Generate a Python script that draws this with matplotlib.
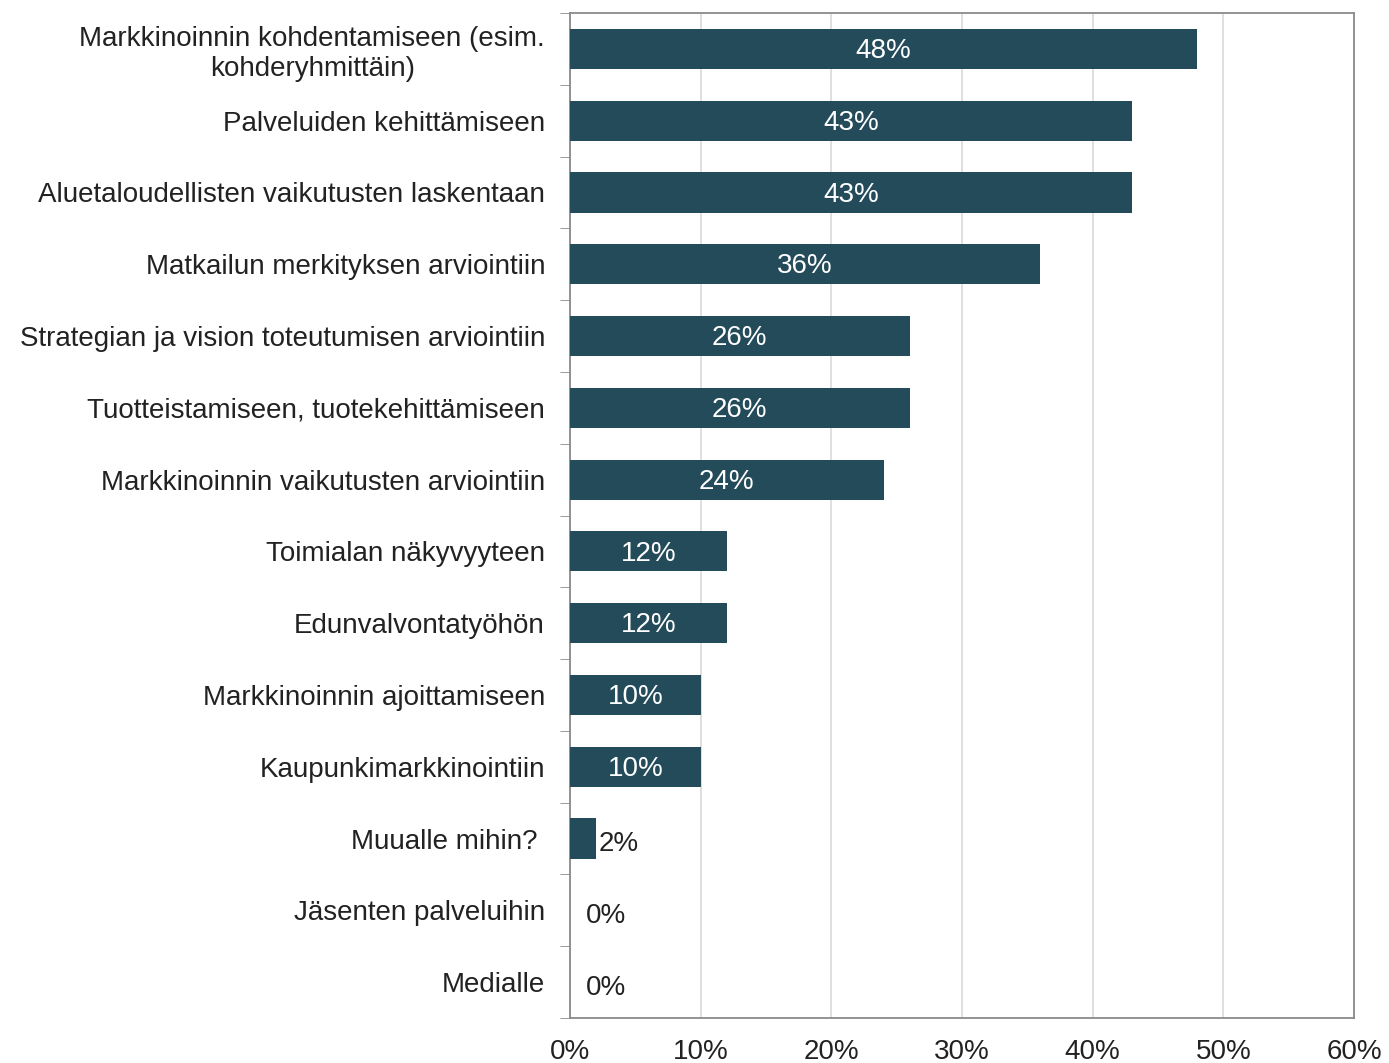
import matplotlib.pyplot as plt
import numpy as np

plt.rcParams['font.family'] = ['Liberation Sans', 'DejaVu Sans']

categories = [
    "Markkinoinnin kohdentamiseen (esim.\nkohderyhmittäin)",
    "Palveluiden kehittämiseen",
    "Aluetaloudellisten vaikutusten laskentaan",
    "Matkailun merkityksen arviointiin",
    "Strategian ja vision toteutumisen arviointiin",
    "Tuotteistamiseen, tuotekehittämiseen",
    "Markkinoinnin vaikutusten arviointiin",
    "Toimialan näkyvyyteen",
    "Edunvalvontatyöhön",
    "Markkinoinnin ajoittamiseen",
    "Kaupunkimarkkinointiin",
    "Muualle mihin? ",
    "Jäsenten palveluihin",
    "Medialle",
]
values = [48, 43, 43, 36, 26, 26, 24, 12, 12, 10, 10, 2, 0, 0]

bar_color = "#234b5a"
spine_color = "#8a8a8a"
fs = 20

fig = plt.figure(figsize=(13.89, 10.63), dpi=100)
ax = fig.add_axes([570 / 1389, 1 - 1018 / 1063, (1354 - 570) / 1389, (1018 - 13) / 1063])

y = np.arange(len(categories))
ax.barh(y, values, height=0.56, color=bar_color, zorder=3)

for yi, v in zip(y, values):
    if v >= 5:
        ax.text(v / 2, yi + 0.03, f"{v}%", ha="center", va="center",
                color="white", fontsize=fs, zorder=4)
    else:
        ax.text(max(v, 1.0) + 0.2, yi + 0.08, f"{v}%", ha="left", va="center",
                color="#222222", fontsize=fs, zorder=4)

ax.set_xlim(0, 60)
ax.set_ylim(len(categories) - 0.5, -0.5)
ax.set_xticks(np.arange(0, 61, 10))
ax.set_xticklabels([f"{t}%" for t in range(0, 61, 10)], fontsize=fs, color="#222222")
ax.tick_params(axis="x", length=0, pad=15)

ax.set_yticks(y)
ax.set_yticklabels(categories, fontsize=fs, color="#222222", multialignment="center")
ax.tick_params(axis="y", which="major", length=0, pad=18)
ax.set_yticks(np.arange(-0.5, len(categories), 1.0), minor=True)
ax.tick_params(axis="y", which="minor", length=7, color=spine_color, direction="out")

ax.grid(axis="x", color="#d9d9d9", linewidth=1.2, zorder=0)
for s in ax.spines.values():
    s.set_color(spine_color)
    s.set_linewidth(1.3)

fig.savefig("out.png", dpi=100)
